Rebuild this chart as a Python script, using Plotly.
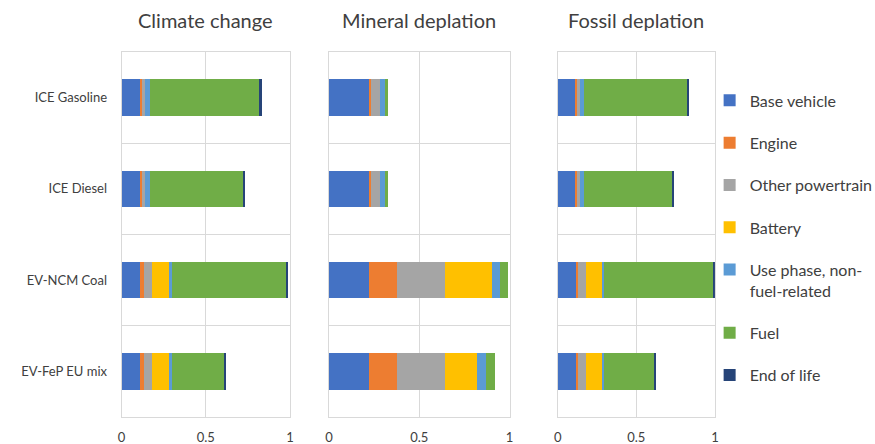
import plotly.graph_objects as go

categories = ["ICE Gasoline", "ICE Diesel", "EV-NCM Coal", "EV-FeP EU mix"]
components = ["Base vehicle", "Engine", "Other powertrain", "Battery",
              "Use phase, non-<br>fuel-related", "Fuel", "End of life"]
colors = ["#4472C4", "#ED7D31", "#A5A5A5", "#FFC000", "#5B9BD5", "#70AD47", "#264478"]
panel_titles = ["Climate change", "Mineral deplation", "Fossil deplation"]

# values per component, order = categories
climate_change = {
    "Base vehicle":     [0.110, 0.110, 0.110, 0.110],
    "Engine":           [0.010, 0.010, 0.023, 0.023],
    "Other powertrain": [0.020, 0.020, 0.050, 0.050],
    "Battery":          [0.000, 0.000, 0.096, 0.096],
    "Use phase":        [0.030, 0.030, 0.020, 0.020],
    "Fuel":             [0.648, 0.548, 0.677, 0.309],
    "End of life":      [0.014, 0.013, 0.012, 0.014],
}
mineral_deplation = {
    "Base vehicle":     [0.220, 0.220, 0.220, 0.220],
    "Engine":           [0.015, 0.015, 0.156, 0.156],
    "Other powertrain": [0.049, 0.049, 0.268, 0.268],
    "Battery":          [0.000, 0.000, 0.257, 0.176],
    "Use phase":        [0.028, 0.028, 0.049, 0.052],
    "Fuel":             [0.016, 0.016, 0.043, 0.049],
    "End of life":      [0.000, 0.000, 0.000, 0.000],
}
fossil_deplation = {
    "Base vehicle":     [0.114, 0.114, 0.114, 0.114],
    "Engine":           [0.011, 0.011, 0.015, 0.015],
    "Other powertrain": [0.017, 0.017, 0.051, 0.051],
    "Battery":          [0.000, 0.000, 0.102, 0.102],
    "Use phase":        [0.027, 0.027, 0.010, 0.010],
    "Fuel":             [0.655, 0.558, 0.693, 0.320],
    "End of life":      [0.011, 0.010, 0.013, 0.011],
}
x_tickvals = [0, 0.5, 1]
x_ticktext = ["0", "0.5", "1"]

panels = [climate_change, mineral_deplation, fossil_deplation]
keys = list(climate_change.keys())

FONT = "Lato"
GRID = "#D9D9D9"
fig = go.Figure()

for p, data in enumerate(panels):
    xa = "x" if p == 0 else f"x{p+1}"
    ya = "y" if p == 0 else f"y{p+1}"
    for i, k in enumerate(keys):
        fig.add_trace(go.Bar(
            y=categories, x=data[k], orientation="h",
            name=components[i], marker=dict(color=colors[i], line=dict(width=0)),
            xaxis=xa, yaxis=ya, showlegend=(p == 0), legendgroup=components[i],
        ))

x_domains = [[0.139, 0.3314], [0.376, 0.5823], [0.6374, 0.8171]]
y_domain = [0.0608, 0.8829]

layout = dict(
    width=875, height=444, barmode="stack", bargap=0.6,
    margin=dict(l=0, r=0, t=0, b=0, autoexpand=False),
    paper_bgcolor="white", plot_bgcolor="white",
    font=dict(family=FONT, size=13, color="#404040"),
    legend=dict(x=0.811, y=0.812, xanchor="left", yanchor="top",
                traceorder="grouped", tracegroupgap=18.5, valign="top",
                bgcolor="rgba(0,0,0,0)",
                font=dict(family=FONT, size=16, color="#404040"),
                itemwidth=30),
)
for p in range(3):
    sx = "" if p == 0 else str(p + 1)
    layout["xaxis" + sx] = dict(
        domain=x_domains[p], range=[0, 1], anchor="y" + sx, automargin=False,
        tickvals=x_tickvals, ticktext=x_ticktext, showgrid=True, gridcolor=GRID,
        gridwidth=1, showline=True, linecolor=GRID, mirror=True, zeroline=False,
        ticks="", ticklabelstandoff=8, tickfont=dict(family=FONT, size=13, color="#404040"),
    )
    layout["yaxis" + sx] = dict(
        domain=y_domain, anchor="x" + sx, type="category", automargin=False,
        categoryorder="array", categoryarray=categories[::-1],
        range=[-0.5, 3.5], tickson="boundaries", showgrid=True, gridcolor=GRID,
        showline=True, linecolor=GRID, mirror=True, ticks="", ticklen=0,
        showticklabels=(p == 0), ticklabelstandoff=11,
        tickfont=dict(family=FONT, size=13, color="#404040"),
    )
fig.update_layout(**layout)

for p in range(3):
    fig.add_annotation(
        x=sum(x_domains[p]) / 2, y=1 - 20 / 444, xref="paper", yref="paper",
        text=panel_titles[p], showarrow=False, xanchor="center", yanchor="middle",
        font=dict(family=FONT, size=20, color="#404040"),
    )

fig.write_html("out.html", config={"displayModeBar": False},
               post_script="document.body.style.margin='0';")
